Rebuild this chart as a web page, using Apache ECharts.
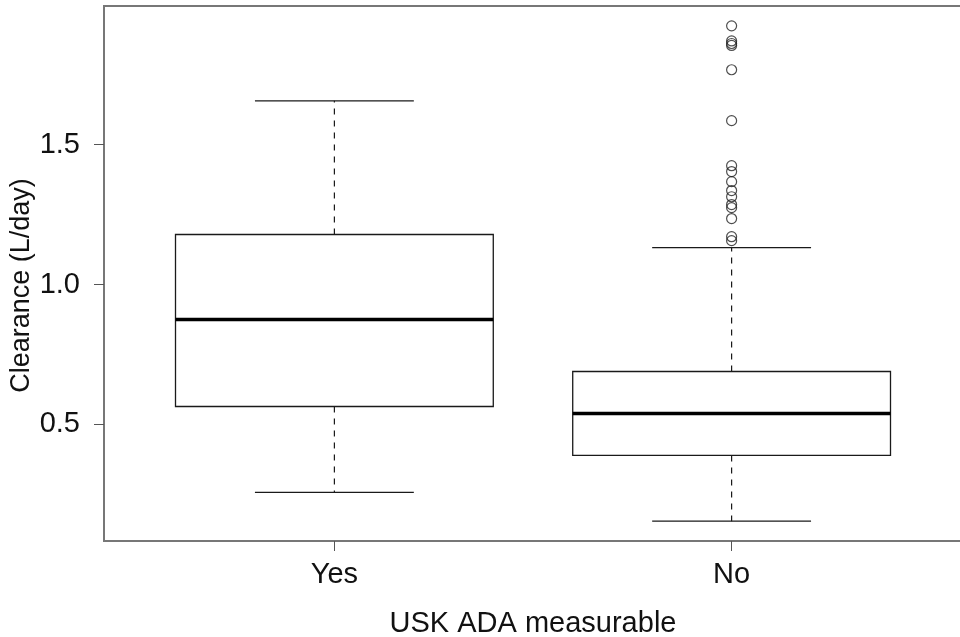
<!DOCTYPE html>
<html><head><meta charset="utf-8">
<script src="https://cdn.jsdelivr.net/npm/echarts@6/dist/echarts.min.js"></script>
<style>html,body{margin:0;padding:0;background:#fff}#c{width:960px;height:637px}</style>
</head><body><div id="c"></div>
<script>
const categories = ['Yes', 'No'];
const whiskerLow = [0.257, 0.154];
const q1 = [0.564, 0.389];
const median = [0.875, 0.539];
const q3 = [1.179, 0.689];
const whiskerHigh = [1.657, 1.132];
const outliersNo = [1.925, 1.871, 1.862, 1.855, 1.768, 1.586, 1.425, 1.404, 1.368, 1.336, 1.314, 1.286, 1.275, 1.236, 1.171, 1.157];
const yTicks = [0.5, 1.0, 1.5];
const xTicks = [1, 2];

const FONT = 'Liberation Sans, Arial, Helvetica, sans-serif';
const boxData = categories.map((c, i) => [i + 1, whiskerLow[i], q1[i], median[i], q3[i], whiskerHigh[i]]);

function renderBox(params, api) {
  const x = api.value(0);
  const lo = api.coord([x, api.value(1)]);
  const b1 = api.coord([x, api.value(2)]);
  const md = api.coord([x, api.value(3)]);
  const b3 = api.coord([x, api.value(4)]);
  const hi = api.coord([x, api.value(5)]);
  const cx = lo[0];
  const w = api.size([0.8, 0])[0];
  const cap = w / 2;
  const stroke = '#1a1a1a';
  return {
    type: 'group',
    children: [
      { type: 'line', shape: { x1: cx, y1: b3[1], x2: cx, y2: hi[1] }, style: { stroke: stroke, lineWidth: 1.2, lineDash: [6, 6] } },
      { type: 'line', shape: { x1: cx, y1: b1[1], x2: cx, y2: lo[1] }, style: { stroke: stroke, lineWidth: 1.2, lineDash: [6, 6] } },
      { type: 'line', shape: { x1: cx - cap / 2, y1: hi[1], x2: cx + cap / 2, y2: hi[1] }, style: { stroke: stroke, lineWidth: 1.3 } },
      { type: 'line', shape: { x1: cx - cap / 2, y1: lo[1], x2: cx + cap / 2, y2: lo[1] }, style: { stroke: stroke, lineWidth: 1.3 } },
      { type: 'rect', shape: { x: cx - w / 2, y: b3[1], width: w, height: b1[1] - b3[1] }, style: { fill: '#fff', stroke: stroke, lineWidth: 1.3 } },
      { type: 'line', shape: { x1: cx - w / 2, y1: md[1], x2: cx + w / 2, y2: md[1] }, style: { stroke: '#000', lineWidth: 3.5 } }
    ]
  };
}

const chart = echarts.init(document.getElementById('c'), null, { renderer: 'canvas' });
chart.setOption({
  animation: false,
  backgroundColor: '#fff',
  textStyle: { fontFamily: FONT },
  grid: { left: 104, right: -2, top: 6, bottom: 96, containLabel: false, outerBoundsMode: 'none',
    show: true, borderColor: '#777', borderWidth: 2, backgroundColor: 'transparent' },
  xAxis: {
    type: 'value', min: 0.42, max: 2.58,
    name: 'USK ADA measurable', nameLocation: 'middle', nameGap: 68, nameMoveOverlap: false,
    nameTextStyle: { fontSize: 29, color: '#111', fontFamily: FONT },
    axisLine: { show: false },
    splitLine: { show: false },
    axisTick: { show: true, length: 10, customValues: xTicks, lineStyle: { color: '#555', width: 1 } },
    axisLabel: { customValues: xTicks, margin: 19, fontSize: 29, color: '#111', fontFamily: FONT,
      formatter: v => categories[Math.round(v) - 1] }
  },
  yAxis: {
    type: 'value', min: 0.083, max: 1.996,
    name: 'Clearance (L/day)', nameLocation: 'middle', nameGap: 69, nameMoveOverlap: false,
    nameTextStyle: { fontSize: 27, color: '#111', fontFamily: FONT, padding: [0, 24, 0, 0] },
    axisLine: { show: false },
    splitLine: { show: false },
    axisTick: { show: true, length: 10, customValues: yTicks, lineStyle: { color: '#555', width: 1 } },
    axisLabel: { customValues: yTicks, margin: 24, fontSize: 29, color: '#111', fontFamily: FONT,
      formatter: v => v.toFixed(1) }
  },
  series: [
    { type: 'custom', renderItem: renderBox, data: boxData, encode: { x: 0, y: [1, 2, 3, 4, 5] }, z: 2 },
    { type: 'scatter', data: outliersNo.map(v => [2, v]), symbol: 'circle', symbolSize: 10,
      itemStyle: { color: 'rgba(255,255,255,0)', borderColor: '#222', borderWidth: 1.2 }, z: 3 }
  ]
});
</script>
</body></html>
